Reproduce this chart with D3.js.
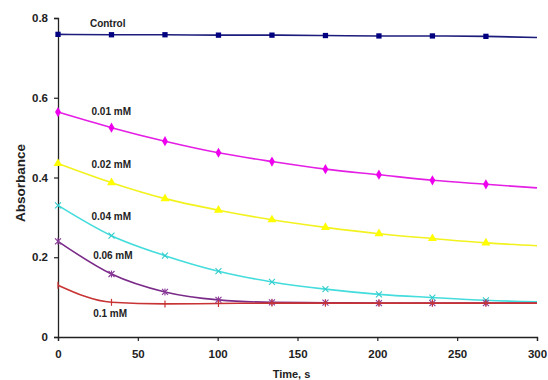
<!DOCTYPE html>
<html>
<head>
<meta charset="utf-8">
<script src="https://cdn.jsdelivr.net/npm/d3@7"></script>
<style>
  body { margin: 0; background: #fff; }
  text { font-family: Arial, "Liberation Sans", sans-serif; font-weight: bold; fill: #222; }
</style>
</head>
<body>
<div id="chart"></div>
<script>
// time points (s); last one is the line end, no marker
var times = [0, 33.5, 67, 100.5, 134, 167.5, 201, 234.5, 268, 300];

var seriesNames = ["Control", "0.01 mM", "0.02 mM", "0.04 mM", "0.06 mM", "0.1 mM"];
var control = [0.759, 0.758, 0.758, 0.757, 0.757, 0.756, 0.755, 0.755, 0.754, 0.751];
var c001 = [0.564, 0.525, 0.491, 0.462, 0.440, 0.421, 0.407, 0.393, 0.383, 0.374];
var c002 = [0.435, 0.387, 0.347, 0.318, 0.294, 0.275, 0.259, 0.247, 0.236, 0.229];
var c004 = [0.330, 0.254, 0.204, 0.165, 0.138, 0.120, 0.107, 0.099, 0.092, 0.088];
var c006 = [0.240, 0.158, 0.113, 0.093, 0.087, 0.086, 0.085, 0.085, 0.085, 0.085];
var c01  = [0.130, 0.087, 0.083, 0.084, 0.085, 0.085, 0.085, 0.085, 0.085, 0.085];

var xTicks = [0, 50, 100, 150, 200, 250, 300];
var yTicks = [0, 0.2, 0.4, 0.6, 0.8];

var allSeries = [control, c001, c002, c004, c006, c01];
var colors = ["#1c1c7c", "#e41ee4", "#f2f21e", "#44dcdc", "#7a2a88", "#c83434"];
var markerFill = ["#000080", "#ee00ee", "#ffff00", "#33cccc", "#8a3a98", "#c83434"];
var markers = ["square", "diamond", "triangle", "x", "star", "bar"];
// label placement (time, absorbance) near each curve
var labelPos = [[20, 0.785], [21, 0.565], [21, 0.432], [21, 0.302], [22, 0.205], [22, 0.06]];

var width = 548, height = 380;
var margin = { top: 18, right: 11, bottom: 43, left: 58 };

var svg = d3.select("#chart").append("svg")
  .attr("width", width)
  .attr("height", height);

var x = d3.scaleLinear().domain([0, 300]).range([margin.left, width - margin.right]);
var y = d3.scaleLinear().domain([0, 0.8]).range([height - margin.bottom, margin.top]);

// axes
var xAxis = svg.append("g")
  .attr("transform", "translate(0," + y(0) + ")")
  .call(d3.axisBottom(x).tickValues(xTicks).tickSize(4).tickPadding(9).tickFormat(d3.format("d")));
var yAxis = svg.append("g")
  .attr("transform", "translate(" + x(0) + ",0)")
  .call(d3.axisLeft(y).tickValues(yTicks).tickSize(4).tickPadding(6).tickFormat(function (d) { return d === 0 ? "0" : d3.format(".1f")(d); }));

[xAxis, yAxis].forEach(function (a) {
  a.select(".domain").attr("stroke", "#222").attr("stroke-width", 1.3);
  a.selectAll(".tick line").attr("stroke", "#222").attr("stroke-width", 1.2);
  a.selectAll("text").style("font-size", "11.5px").attr("fill", "#222");
});

svg.append("text")
  .attr("x", x(150) - 6).attr("y", 378)
  .attr("text-anchor", "middle")
  .style("font-size", "11px")
  .text("Time, s");

svg.append("text")
  .attr("transform", "translate(25," + 183 + ") rotate(-90)")
  .attr("text-anchor", "middle")
  .style("font-size", "13.5px")
  .text("Absorbance");

var line = d3.line()
  .x(function (d) { return x(d[0]); })
  .y(function (d) { return y(d[1]); })
  .curve(d3.curveMonotoneX);

var sym = {
  square: d3.symbol().type(d3.symbolSquare).size(28),
  diamond: d3.symbol().type(d3.symbolDiamond).size(30),
  triangle: d3.symbol().type(d3.symbolTriangle).size(34)
};

allSeries.forEach(function (vals, i) {
  var pts = vals.map(function (v, k) { return [times[k], v]; });
  var g = svg.append("g");
  g.append("path")
    .datum(pts)
    .attr("fill", "none")
    .attr("stroke", colors[i])
    .attr("stroke-width", 1.6)
    .attr("d", line);

  var mk = g.selectAll(".m").data(pts.slice(0, pts.length - 1)).enter().append("g")
    .attr("transform", function (d) { return "translate(" + x(d[0]) + "," + y(d[1]) + ")"; });

  var type = markers[i];
  if (sym[type]) {
    mk.append("path").attr("d", sym[type]()).attr("fill", markerFill[i]);
  } else if (type === "x" || type === "star") {
    mk.append("path").attr("d", "M-3,-3L3,3M-3,3L3,-3" + (type === "star" ? "M0,-3.5L0,3.5" : ""))
      .attr("stroke", markerFill[i]).attr("stroke-width", 1.1).attr("fill", "none");
  } else {
    mk.append("path").attr("d", "M0,-3.5L0,3.5").attr("stroke", markerFill[i]).attr("stroke-width", 1.2);
  }

  svg.append("text")
    .attr("x", x(labelPos[i][0]))
    .attr("y", y(labelPos[i][1]))
    .attr("dy", "0.35em")
    .style("font-size", "10px")
    .text(seriesNames[i]);
});
</script>
</body>
</html>
